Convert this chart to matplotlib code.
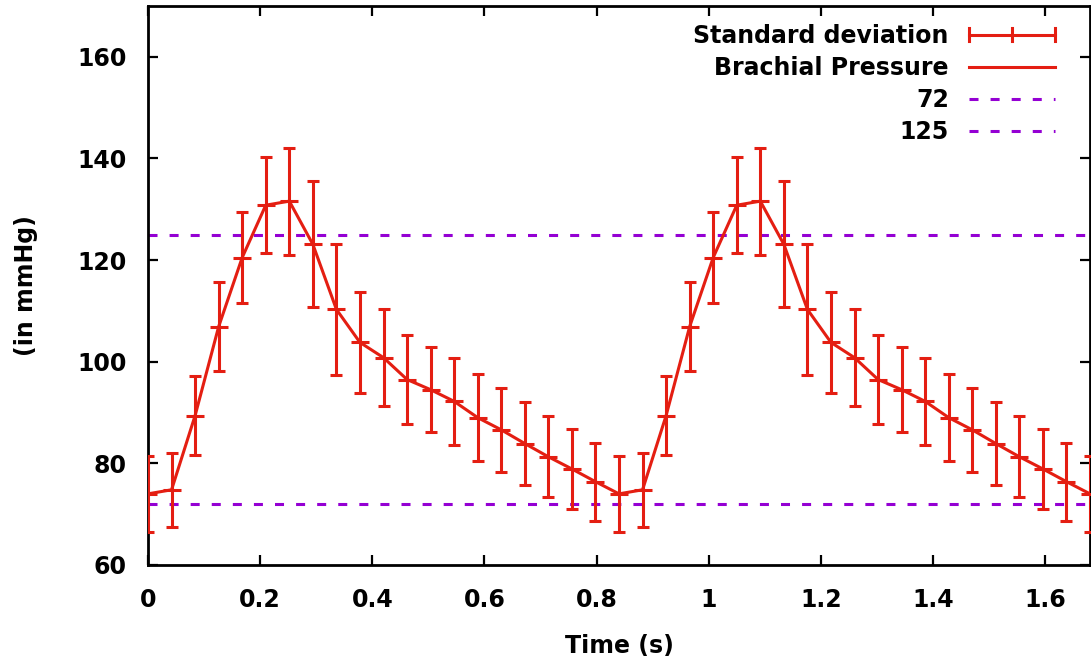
import matplotlib
matplotlib.use("Agg")
import matplotlib.pyplot as plt
from matplotlib.lines import Line2D
from matplotlib.legend_handler import HandlerBase

# ---- data ----
time_s = [0.000, 0.042, 0.084, 0.126, 0.168, 0.210, 0.252, 0.294, 0.336, 0.378,
          0.420, 0.462, 0.504, 0.546, 0.588, 0.630, 0.672, 0.714, 0.756, 0.798,
          0.840, 0.882, 0.924, 0.966, 1.008, 1.050, 1.092, 1.134, 1.176, 1.218,
          1.260, 1.302, 1.344, 1.386, 1.428, 1.470, 1.512, 1.554, 1.596, 1.638,
          1.680]
pressure = [74.0, 74.8, 89.4, 106.9, 120.5, 130.8, 131.6, 123.1, 110.3, 103.8,
            100.8, 96.5, 94.5, 92.2, 89.0, 86.6, 83.9, 81.3, 78.9, 76.4,
            74.0, 74.8, 89.4, 106.9, 120.5, 130.8, 131.6, 123.1, 110.3, 103.8,
            100.8, 96.5, 94.5, 92.2, 89.0, 86.6, 83.9, 81.3, 78.9, 76.4,
            74.0]
std_dev = [7.5, 7.3, 7.7, 8.7, 8.9, 9.4, 10.5, 12.4, 12.9, 10.0,
           9.5, 8.8, 8.4, 8.5, 8.5, 8.3, 8.2, 8.0, 7.9, 7.7,
           7.5, 7.3, 7.7, 8.7, 8.9, 9.4, 10.5, 12.4, 12.9, 10.0,
           9.5, 8.8, 8.4, 8.5, 8.5, 8.3, 8.2, 8.0, 7.9, 7.7,
           7.5]
ref_lines = [72, 125]
ref_labels = ["72", "125"]
x_ticks = [0, 0.2, 0.4, 0.6, 0.8, 1.0, 1.2, 1.4, 1.6]
x_ticklabels = ["0", "0.2", "0.4", "0.6", "0.8", "1", "1.2", "1.4", "1.6"]
y_ticks = [60, 80, 100, 120, 140, 160]

RED = "#e41e12"
PURPLE = "#9400d3"
DASH = (2.95, 3.95)
FS = 17

plt.rcParams['font.family'] = ['DejaVu Sans']
plt.rcParams['font.weight'] = 'bold'

fig = plt.figure(figsize=(10.91, 6.62), dpi=100)
ax = fig.add_axes([148/1091, 1 - 565/662, (1090-148)/1091, (565-6)/662])

# error bars
ax.errorbar(time_s, pressure, yerr=std_dev, fmt='none', ecolor=RED,
            elinewidth=2.2, capsize=4.5, capthick=2.2, zorder=3)
# point markers (horizontal dashes)
ax.plot(time_s, pressure, linestyle='none', marker='_', markersize=13,
        markeredgewidth=2.2, color=RED, zorder=3)
# line
ax.plot(time_s, pressure, color=RED, linewidth=2.2, zorder=3)

for v in ref_lines:
    ax.axhline(v, color=PURPLE, linewidth=2.2, dashes=DASH, zorder=2)

ax.set_xlim(0, 1.68)
ax.set_ylim(60, 170)
ax.set_xticks(x_ticks)
ax.set_xticklabels(x_ticklabels)
ax.set_yticks(y_ticks)
ax.tick_params(direction='in', length=7, width=1.6, top=True, right=True,
               labelsize=FS)
ax.tick_params(axis='x', pad=16.5)
ax.tick_params(axis='y', pad=15.5)
for lab in ax.get_xticklabels() + ax.get_yticklabels():
    lab.set_fontweight('bold')
for sp in ax.spines.values():
    sp.set_linewidth(2.0)

ax.set_xlabel("Time (s)", fontsize=FS, fontweight='bold', labelpad=16)
ax.set_ylabel("(in mmHg)", fontsize=FS, fontweight='bold', labelpad=28.5)


class ErrHandle:
    pass


class HandlerErr(HandlerBase):
    def create_artists(self, legend, orig_handle, xdescent, ydescent,
                       width, height, fontsize, trans):
        y = height / 2 - ydescent
        x0 = -xdescent
        x1 = -xdescent + width
        xm = (x0 + x1) / 2
        h = 4.5
        arts = [Line2D([x0, x1], [y, y]),
                Line2D([x0, x0], [y - h, y + h]),
                Line2D([x1, x1], [y - h, y + h]),
                Line2D([xm, xm], [y - h, y + h])]
        for a in arts:
            a.set_color(RED)
            a.set_linewidth(2.2)
            a.set_transform(trans)
        return arts


handles = [ErrHandle(),
           Line2D([], [], color=RED, linewidth=2.2)]
labels = ["Standard deviation", "Brachial Pressure"]
for lab in ref_labels:
    handles.append(Line2D([], [], color=PURPLE, linewidth=2.2, dashes=DASH))
    labels.append(lab)

leg = ax.legend(handles, labels, handler_map={ErrHandle: HandlerErr()},
                loc='upper right', bbox_to_anchor=((1055-148)/942, (565-24)/559),
                frameon=False, markerfirst=False, fontsize=FS,
                handlelength=3.65, handletextpad=0.85, labelspacing=0.34,
                borderpad=0, borderaxespad=0)
for t in leg.get_texts():
    t.set_fontweight('bold')

fig.savefig("out.png", dpi=100)
